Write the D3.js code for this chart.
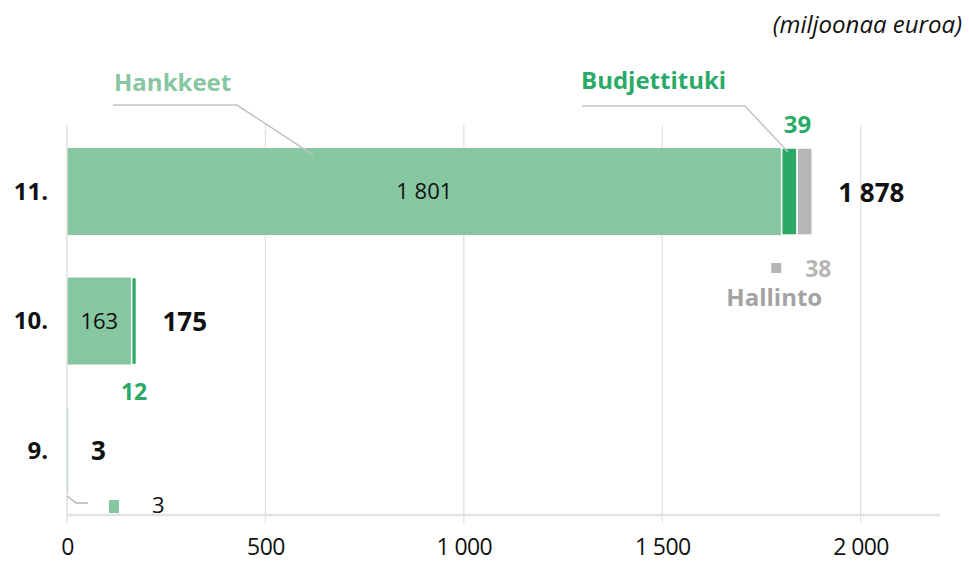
<!DOCTYPE html>
<html>
<head>
<meta charset="utf-8">
<script src="https://cdn.jsdelivr.net/npm/d3@7"></script>
<style>
  body { margin: 0; background: #fff; }
  svg { font-family: "Open Sans", "Noto Sans", sans-serif; }
</style>
</head>
<body>
<script>
// rivit ja sarjat (miljoonaa euroa)
const rows = ["11.", "10.", "9."];
const hankkeet = [1801, 163, 3];
const budjettituki = [39, 12, 0];
const hallinto = [38, 0, 0];
const totals = [1878, 175, 3];
const tickValues = [0, 500, 1000, 1500, 2000];

const colors = { hankkeet: "#86c6a1", budjettituki: "#2aaa66", hallinto: "#b6b6b6" };

const fi = d3.formatLocale({ decimal: ",", thousands: "\u00a0", grouping: [3], currency: ["", " €"] });
const fmt = fi.format(",d");

const width = 969, height = 565;

const svg = d3.select("body").append("svg")
    .attr("width", width)
    .attr("height", height);

const x = d3.scaleLinear().domain([0, 2200]).range([67, 940]);
const y = d3.scaleBand().domain(rows).range([126.8, 515.3])
    .paddingInner(0.328).paddingOuter(0.164);

// gridlines
svg.append("g").selectAll("line").data(tickValues.slice(1)).enter().append("line")
    .attr("x1", d => x(d)).attr("x2", d => x(d))
    .attr("y1", 125).attr("y2", 523)
    .attr("stroke", "#e2e2e2").attr("stroke-width", 1.3);

// baseline
svg.append("line")
    .attr("x1", x(0)).attr("x2", x(2200))
    .attr("y1", 515).attr("y2", 515)
    .attr("stroke", "#e2e2e2").attr("stroke-width", 2.5);

// x axis labels
const xAxis = d3.axisBottom(x).tickValues(tickValues).tickSize(0).tickFormat(fmt);
const ax = svg.append("g").attr("transform", "translate(0,536)").call(xAxis);
ax.select(".domain").remove();
ax.selectAll("text").attr("font-size", 23).attr("fill", "#111")
    .attr("font-family", "'Open Sans', sans-serif").attr("letter-spacing", -0.6);

// stacked bars
const stacked = rows.map((r, i) => {
    const segs = [];
    let acc = 0;
    [["hankkeet", hankkeet[i]], ["budjettituki", budjettituki[i]], ["hallinto", hallinto[i]]].forEach(([k, v]) => {
        if (v > 0) segs.push({ row: r, key: k, x0: acc, x1: acc + v });
        acc += v;
    });
    return segs;
}).flat();

svg.append("g").selectAll("rect").data(stacked).enter().append("rect")
    .attr("x", d => x(d.x0))
    .attr("y", d => y(d.row))
    .attr("width", d => x(d.x1) - x(d.x0))
    .attr("height", y.bandwidth())
    .attr("fill", d => colors[d.key])
    .attr("stroke", "#fff")
    .attr("stroke-width", d => d.x0 > 0 ? 1.5 : 0);

// zero line drawn above the bars
svg.append("line")
    .attr("x1", x(0)).attr("x2", x(0))
    .attr("y1", 125).attr("y2", 523)
    .attr("stroke", "#e2e2e2").attr("stroke-width", 1.6);

// row labels
svg.append("g").selectAll("text").data(rows).enter().append("text")
    .attr("x", 48)
    .attr("y", d => y(d) + y.bandwidth() / 2)
    .attr("dy", "0.35em")
    .attr("text-anchor", "end")
    .attr("font-size", 24).attr("font-weight", "bold").attr("fill", "#111")
    .text(d => d);

// totals
svg.append("g").selectAll("text").data(rows).enter().append("text")
    .attr("x", (d, i) => i === 2 ? x(0) + 24 : x(totals[i]) + 26)
    .attr("y", (d, i) => y(d) + y.bandwidth() / 2 + (i === 2 ? 0 : 1))
    .attr("dy", "0.35em")
    .attr("font-size", 26).attr("font-weight", "bold").attr("fill", "#111")
    .text((d, i) => fmt(totals[i]));

// value labels inside Hankkeet
svg.append("text")
    .attr("x", x(hankkeet[0] / 2)).attr("y", y(rows[0]) + y.bandwidth() / 2)
    .attr("dy", "0.35em").attr("text-anchor", "middle")
    .attr("font-size", 22).attr("fill", "#111").text(fmt(hankkeet[0]));
svg.append("text")
    .attr("x", x(hankkeet[1] / 2)).attr("y", y(rows[1]) + y.bandwidth() / 2)
    .attr("dy", "0.35em").attr("text-anchor", "middle")
    .attr("font-size", 22).attr("fill", "#111").text(fmt(hankkeet[1]));

// Budjettituki values
svg.append("text")
    .attr("x", x(hankkeet[0] + budjettituki[0] / 2) + 8).attr("y", y(rows[0]) - 15)
    .attr("text-anchor", "middle")
    .attr("font-size", 24).attr("font-weight", "bold").attr("fill", colors.budjettituki)
    .text(fmt(budjettituki[0]));
svg.append("text")
    .attr("x", x(hankkeet[1] + budjettituki[1] / 2)).attr("y", y(rows[1]) + y.bandwidth() + 35)
    .attr("text-anchor", "middle")
    .attr("font-size", 23).attr("font-weight", "bold").attr("fill", colors.budjettituki)
    .text(fmt(budjettituki[1]));

// Hallinto marker
const hx = x(totals[0]);
svg.append("rect")
    .attr("x", hx - 41).attr("y", 263).attr("width", 10).attr("height", 10)
    .attr("fill", colors.hallinto);
svg.append("text")
    .attr("x", hx - 7).attr("y", 277)
    .attr("font-size", 23).attr("font-weight", "bold").attr("fill", colors.hallinto)
    .text(fmt(hallinto[0]));
svg.append("text")
    .attr("x", hx + 10).attr("y", 306).attr("text-anchor", "end")
    .attr("font-size", 24).attr("font-weight", "bold").attr("fill", "#a3a3a3")
    .text("Hallinto");

// series callouts
svg.append("text")
    .attr("x", 114).attr("y", 91)
    .attr("font-size", 24).attr("font-weight", "bold").attr("fill", colors.hankkeet)
    .text("Hankkeet");
svg.append("polyline")
    .attr("points", [[113, 105], [237, 105], [313, 155]].join(" "))
    .attr("fill", "none").attr("stroke", "#c4c4c4").attr("stroke-width", 1.5);

svg.append("text")
    .attr("x", 581).attr("y", 89)
    .attr("font-size", 24).attr("font-weight", "bold").attr("fill", colors.budjettituki)
    .text("Budjettituki");
svg.append("polyline")
    .attr("points", [[582, 106], [745, 106], [788, 152]].join(" "))
    .attr("fill", "none").attr("stroke", "#c4c4c4").attr("stroke-width", 1.5);

// row 9 Hankkeet callout
svg.append("polyline")
    .attr("points", [[x(0), 496], [x(0) + 9, 503], [x(0) + 21, 503]].join(" "))
    .attr("fill", "none").attr("stroke", "#b5b5b5").attr("stroke-width", 1.5);
svg.append("rect")
    .attr("x", 109).attr("y", 500).attr("width", 10).attr("height", 13)
    .attr("fill", colors.hankkeet);
svg.append("text")
    .attr("x", 152).attr("y", 513)
    .attr("font-size", 22).attr("fill", "#111").text(fmt(hankkeet[2]));

// unit
svg.append("text")
    .attr("x", 962).attr("y", 33).attr("text-anchor", "end")
    .attr("font-size", 24).attr("font-style", "italic").attr("fill", "#111")
    .text("(miljoonaa euroa)");
</script>
</body>
</html>
